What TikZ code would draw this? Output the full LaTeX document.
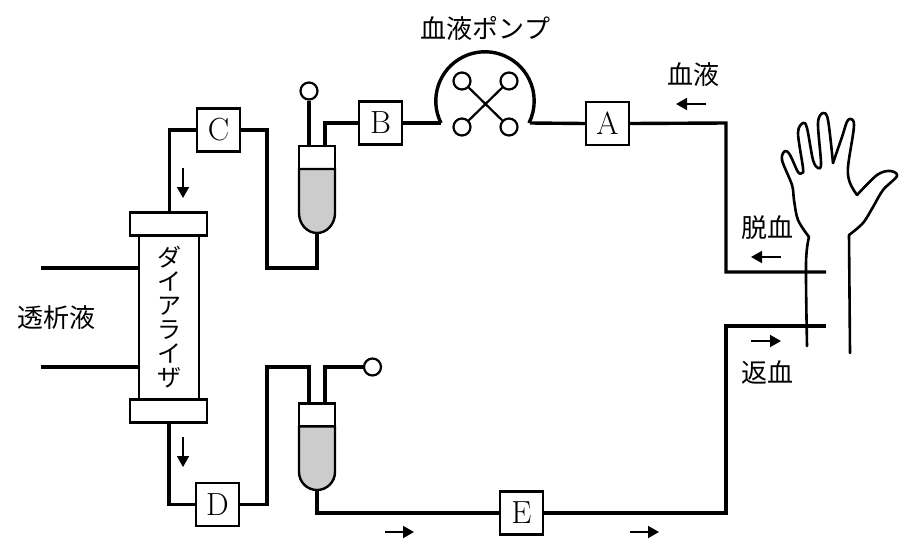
\documentclass[tikz,border=0pt]{standalone}
\usepackage{fontspec}
\newfontfamily\jpfont{Noto Sans CJK JP}
\usetikzlibrary{arrows.meta,positioning,calc}
\tikzset{
  pipe/.style={line width=3.4pt,line join=miter},
  valve/.style={draw,line width=2.4pt,fill=white,minimum width=43pt,minimum height=43pt,inner sep=0pt,font=\fontsize{32}{32}\selectfont},
  endcap/.style={draw,line width=2.4pt,fill=white,minimum width=77pt,minimum height=23pt,inner sep=0pt,outer sep=0pt},
  hood/.style={draw,line width=2.4pt,fill=white,minimum width=36pt,minimum height=23pt,inner sep=0pt,outer sep=0pt},
  port/.style={circle,draw,line width=2.2pt,fill=white,minimum size=17pt,inner sep=0pt},
  flow/.style={line width=1.8pt,-{Triangle[length=11pt,width=12pt]}},
  lbl/.style={inner sep=0pt,font=\jpfont\fontsize{26}{26}\selectfont},
  limb/.style={line width=2.6pt,line cap=round,line join=round}
}
\begin{document}
\begin{tikzpicture}[x=1pt,y=-1pt]
   \useasboundingbox (0,0) rectangle (907,544);
   % boxes
   \node[valve] (A) at (607.5,123.5) {A};
   \node[valve] (B) at (380.5,123) {B};
   \node[valve] (C) at (218.5,130) {C};
   \node[valve] (D) at (217.5,504.5) {D};
   \node[valve] (E) at (521.5,513) {E};
   % dialyzer
   \draw[line width=2.6pt,fill=white] (139,224) rectangle (199,410);
   \node[endcap] (captop) at (168.5,224) {};
   \node[endcap] (capbot) at (168.5,411) {};
   \node[lbl,align=center,font=\jpfont\fontsize{24}{24}\selectfont] (dialyzer) at (169,317) {ダ\\イ\\ア\\ラ\\イ\\ザ};
   % chambers
   \node[hood] (hoodu) at (317,157.5) {};
   \node[hood] (hoodl) at (317,415) {};
   \draw[line width=2.4pt,fill=black!20] (hoodu.south west) -- (299,213) arc[start angle=180,end angle=0,x radius=18,y radius=20] -- (hoodu.south east) -- cycle;
   \draw[line width=2.4pt,fill=black!20] (hoodl.south west) -- (299,472) arc[start angle=180,end angle=0,x radius=18,y radius=18] -- (hoodl.south east) -- cycle;
   \coordinate (chamberu) at (317,233);
   \coordinate (chamberl) at (317,490);
   % clamps
   \node[port] (portu) at (309,91) {};
   \node[port] (portl) at (372.5,367) {};
   % pump
   \coordinate (pumpl) at (441,123);
   \coordinate (pumpr) at (530,123);
   \draw[pipe] (pumpl) arc[start angle=153.4,end angle=386.6,radius=49.2];
   \node[port] (r1) at (462,81) {};
   \node[port] (r2) at (509,81) {};
   \node[port] (r3) at (462,127) {};
   \node[port] (r4) at (509,127) {};
   \draw[line width=2.2pt] (r1) -- (r4) (r2) -- (r3);
   % tubing
   \coordinate (armu) at (826,272);
   \coordinate (arml) at (826,326);
   \coordinate (dialu) at (41,268);
   \coordinate (diall) at (41,367);
   \draw[pipe] (armu) -| (726,123) -- (A.east);
   \draw[pipe] (A.west) -- (pumpr);
   \draw[pipe] (pumpl) -- (B.east);
   \draw[pipe] (B.west) -| ($(hoodu.north)+(8,0)$);
   \draw[pipe] (portu) -- ($(hoodu.north)+(-8,0)$);
   \draw[pipe] (chamberu) |- (267,268) |- (C.east);
   \draw[pipe] (C.west) -| ($(captop.north)+(1,0)$);
   \draw[pipe] ($(capbot.south)+(0.5,0)$) |- (D.west);
   \draw[pipe] (D.east) -| (267,367) -| ($(hoodl.north)+(-8,0)$);
   \draw[pipe] (portl) -| ($(hoodl.north)+(8,0)$);
   \draw[pipe] (chamberl) |- (E.west);
   \draw[pipe] (E.east) -| (726,326) -- (arml);
   \draw[pipe] (dialu) -- (139,268);
   \draw[pipe] (diall) -- (139,367);
   % flow arrows
   \foreach \n/\xa/\ya/\xb/\yb in {f1/183/168/183/198,f2/183/437/183/467,f3/706/104/676/104,f4/781/257/751/257,f5/751/341/781/341,f6/385/532/414/532,f7/630/532/659/532}{
     \coordinate (\n a) at (\xa,\ya);
     \coordinate (\n b) at (\xb,\yb);
     \draw[flow] (\n a) -- (\n b);
   }
   % labels
   \node[lbl] (pumplabel) at (485.5,29) {血液ポンプ};
   \node[lbl] (bloodlabel) at (693.5,75) {血液};
   \node[lbl] (outlabel) at (767,228) {脱血};
   \node[lbl] (inlabel) at (767,372) {返血};
   \node[lbl] (fluidlabel) at (56,318) {透析液};
   % hand
   \draw[limb] plot[smooth,tension=.55] coordinates {(807,346) (806,263) (809,237)};
   \draw[limb] plot[smooth,tension=.55] coordinates {(809,237) (798,220) (794,200) (792,185) (782,160) (785,151) (790,155) (798,172) (802,173) (803,168) (798,133) (803,123) (807,128) (813,160) (818,168) (821,163) (818,123) (823,113) (828,120) (833,163)};
   \draw[limb] plot[smooth,tension=.55] coordinates {(833,163) (842,137) (848,120) (854,125) (848,167) (850,183) (857,195)};
   \draw[limb] plot[smooth,tension=.55] coordinates {(857,195) (877,175) (890,171) (897,176) (883,190) (873,207) (863,223) (849,235)};
   \draw[limb] (849,235) -- (850,353);
\end{tikzpicture}
\end{document}
